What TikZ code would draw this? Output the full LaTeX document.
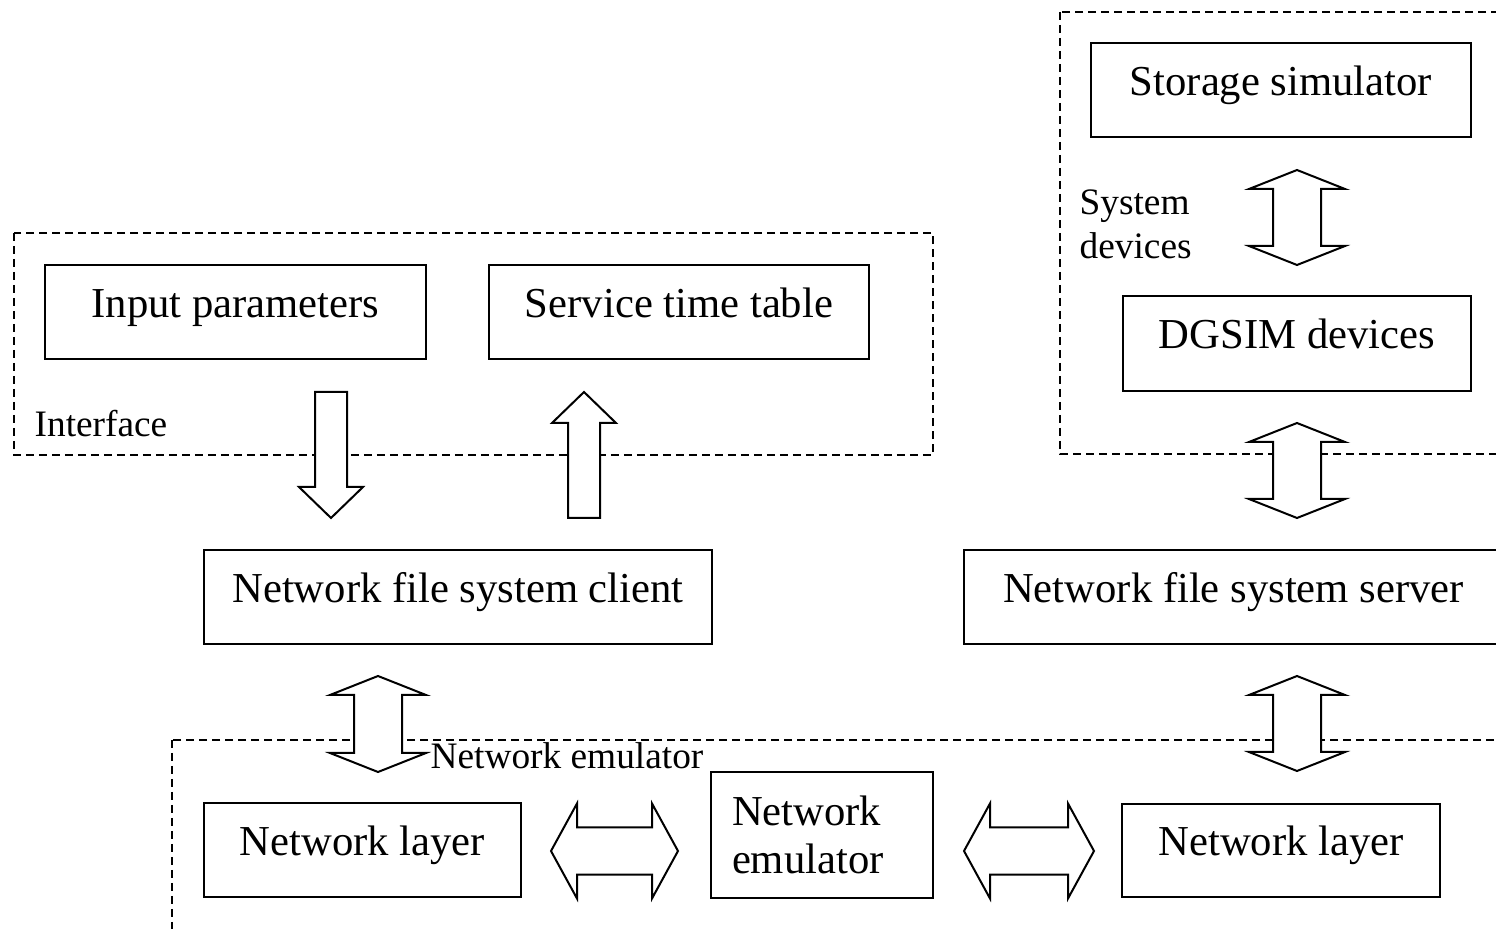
\documentclass[tikz,border=0pt]{standalone}
\usepackage{fontspec}
\setmainfont{Liberation Serif}
\usepackage{tikz}
\usetikzlibrary{positioning}
% block arrows (coordinates in picture units)
\newcommand{\vbiarrow}[3]{% centre x, top tip, bottom tip
  \draw[blockarrow] (#1,#2) -- ++(48,19) -- ++(-24,0) -- ({#1+24},{#3-19})
    -- ++(24,0) -- (#1,#3) -- ++(-48,-19) -- ++(24,0) -- ({#1-24},{#2+19})
    -- ++(-24,0) -- cycle;}
\newcommand{\hbiarrow}[3]{% left tip, right tip, centre y
  \draw[blockarrow] (#1,#3) -- ++(26,-47.5) -- ++(0,24) -- ({#2-26},{#3-23.5})
    -- ++(0,-24) -- (#2,#3) -- ++(-26,47.5) -- ++(0,-24) -- ({#1+26},{#3+23.5})
    -- ++(0,24) -- cycle;}
\newcommand{\downblock}[3]{% centre x, tail, tip
  \draw[blockarrow] ({#1-16},#2) -- ++(32,0) -- ({#1+16},{#3-31}) -- ++(16,0)
    -- (#1,#3) -- ++(-32,-31) -- ++(16,0) -- cycle;}
\newcommand{\upblock}[3]{% centre x, tip, tail
  \draw[blockarrow] ({#1-16},#3) -- ++(32,0) -- ({#1+16},{#2+31}) -- ++(16,0)
    -- (#1,#2) -- ++(-32,31) -- ++(16,0) -- cycle;}

\begin{document}
\begin{tikzpicture}[
  x=0.3pt, y=-0.3pt,
  font=\fontsize{12.8}{14.4}\selectfont,
  box/.style={draw, line width=0.6pt, inner sep=0pt, minimum height=28.2pt,
    text height=8.96pt, text depth=5.89pt},
  region/.style={draw, line width=0.45pt, dash pattern=on 2.4pt off 1.5pt},
  lbl/.style={font=\fontsize{11.2}{13}\selectfont, inner sep=0pt},
  blockarrow/.style={draw, fill=white, line width=0.6pt, line join=miter},
]
  \useasboundingbox (0,0) rectangle (1496,929);
  \clip (0,0) rectangle (1496,929);

  % Dashed regions
  \draw[region] (14,233) rectangle (933,455);
  \draw[region] (1060,12) rectangle (1520,454);
  \draw[region] (172,740) rectangle (1520,950);

  \node[lbl, anchor=base west] (ifacelbl) at (34,437) {Interface};
  \node[lbl, anchor=base west, text width=40pt, align=left] (syslbl)
       at (1079,215) {System\\devices};
  \node[lbl, anchor=base west] (emulbl) at (430,769) {Network emulator};

  % Blocks
  \node[box, minimum width=114.3pt] (inp)    at (235.5,312)  {Input parameters};
  \node[box, minimum width=114pt]   (stt)    at (679,312)    {Service time table};
  \node[box, minimum width=114pt]   (stor)   at (1281,90)    {Storage simulator};
  \node[box, minimum width=104.4pt, minimum height=28.5pt]
                                    (dgsim)  at (1297,343.5) {DGSIM devices};
  \node[box, minimum width=152.4pt] (client) at (458,597)    {Network file system client};
  \node[box, minimum width=161.7pt] (server) at (1233.5,597.5) {Network file system server};
  \node[box, minimum width=95.1pt]  (nlA)    at (362.5,850)  {Network layer};
  \node[box, minimum width=95.4pt]  (nlB)    at (1281,850.5) {Network layer};
  \node[box, text width=54pt, inner xsep=6.3pt, align=left, minimum height=37.8pt,
        text height=8.4pt, text depth=14.1pt] (emu) at (822,835) {Network\\emulator};

  % Block arrows
  \foreach \x/\t/\b in {1297/170/265, 1297/423/518, 378/676/772, 1297/676/771}
    \vbiarrow{\x}{\t}{\b};
  \foreach \l/\r in {551/678, 964/1094}
    \hbiarrow{\l}{\r}{851};
  \downblock{331}{392}{518}
  \upblock{584}{392}{518}
\end{tikzpicture}
\end{document}
